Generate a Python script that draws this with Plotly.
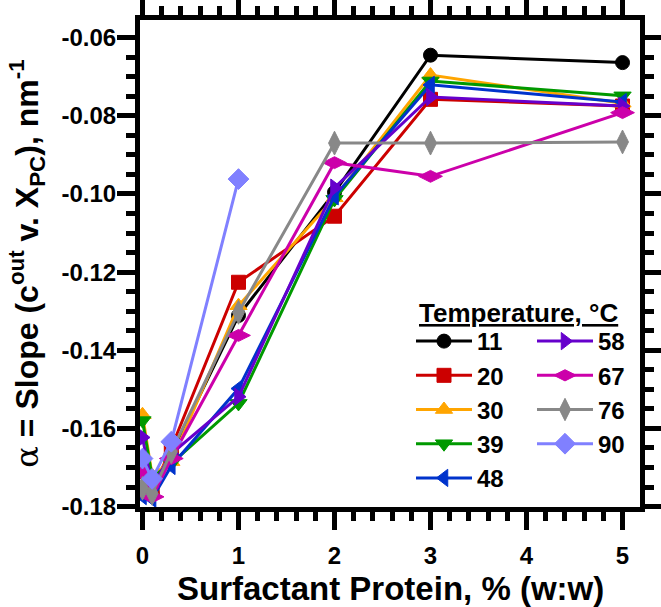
import plotly.graph_objects as go

# ---- data ----
x_vals = [0, 0.1, 0.3, 1, 2, 3, 5]
x_90 = [0, 0.1, 0.3, 1]

temps = ["11", "20", "30", "39", "48", "58", "67", "76", "90"]

s11 = [-0.1755, -0.1765, -0.1665, -0.1311, -0.0996, -0.0645, -0.0664]
s20 = [-0.1710, -0.1760, -0.1650, -0.1226, -0.1057, -0.0758, -0.0775]
s30 = [-0.1565, -0.1720, -0.1685, -0.1286, -0.1010, -0.0696, -0.0768]
s39 = [-0.1580, -0.1724, -0.1690, -0.1536, -0.1014, -0.0711, -0.0749]
s48 = [-0.1773, -0.1780, -0.1696, -0.1498, -0.1006, -0.0721, -0.0765]
s58 = [-0.1623, -0.1750, -0.1665, -0.1519, -0.0984, -0.0752, -0.0775]
s67 = [-0.1714, -0.1775, -0.1677, -0.1362, -0.0920, -0.0955, -0.0792]
s76 = [-0.1753, -0.1766, -0.1660, -0.1303, -0.0870, -0.0870, -0.0867]
s90 = [-0.1677, -0.1729, -0.1634, -0.0962]

x_ticks = [0, 1, 2, 3, 4, 5]
y_ticks = [-0.18, -0.16, -0.14, -0.12, -0.10, -0.08, -0.06]
y_ticklabels = ["-0.18", "-0.16", "-0.14", "-0.12", "-0.10", "-0.08", "-0.06"]

series = [s11, s20, s30, s39, s48, s58, s67, s76, s90]
xs = [x_vals] * 8 + [x_90]
colors = ["#000000", "#CC0000", "#FFA500", "#009900", "#0033CC",
          "#6600CC", "#CC00AA", "#888888", "#8080FF"]
symbols = ["circle", "square", "triangle-up", "triangle-down", "triangle-left",
           "triangle-right", "diamond-wide", "diamond-tall", "diamond"]
sizes = [14, 14, 15, 15, 15, 15, 17, 17, 16]

FONT = "Liberation Sans, Arial, sans-serif"

fig = go.Figure()
for i, (t, yv, xv) in enumerate(zip(temps, series, xs)):
    fig.add_trace(go.Scatter(
        x=xv, y=yv, name=t, mode="lines+markers",
        line=dict(color=colors[i], width=3),
        marker=dict(symbol=symbols[i], size=sizes[i], color=colors[i],
                    line=dict(color=colors[i], width=1)),
        legend="legend" if i < 5 else "legend2",
    ))

axis_common = dict(
    showline=True, linewidth=5, linecolor="black", mirror="ticks",
    ticks="outside", ticklen=18, tickwidth=5, tickcolor="black",
    showgrid=False, zeroline=False, automargin=False,
    tickfont=dict(family=FONT, size=24, color="black", weight="bold"),
)

legend_common = dict(
    xanchor="left", yanchor="top", bgcolor="rgba(0,0,0,0)",
    tracegroupgap=0, itemwidth=56,
    font=dict(family=FONT, size=24, color="black", weight="bold"),
)

fig.update_layout(
    width=661, height=607,
    margin=dict(l=140, r=21, t=20, b=100),
    plot_bgcolor="white", paper_bgcolor="white",
    showlegend=True,
    xaxis=dict(
        range=[-0.026, 5.182], tickmode="array", tickvals=x_ticks,
        ticktext=[str(v) for v in x_ticks],
        minor=dict(dtick=0.2, tick0=0, ticklen=9, tickwidth=5,
                   tickcolor="black", ticks="outside"),
        ticklabelstandoff=5,
        **axis_common,
    ),
    yaxis=dict(
        range=[-0.1801, -0.0555], tickmode="array", tickvals=y_ticks,
        ticktext=y_ticklabels,
        minor=dict(dtick=0.005, tick0=0, ticklen=9, tickwidth=5,
                   tickcolor="black", ticks="outside"),
        ticklabelstandoff=-4,
        title=dict(
            text=("<span style='font-family:DejaVu Serif;font-weight:normal'>α</span>"
                  " = Slope (c<sup>out</sup> v. X<sub>PC</sub>), nm<sup>-1</sup>"),
            font=dict(family=FONT, size=32, color="black", weight="bold")),
        **axis_common,
    ),
    legend=dict(x=0.542, y=0.386, **legend_common),
    legend2=dict(x=0.784, y=0.386, **legend_common),
    annotations=[
        dict(
            text="<u>Temperature, °C</u>", xref="paper", yref="paper",
            x=0.756, y=0.398, xanchor="center", yanchor="middle", showarrow=False,
            font=dict(family=FONT, size=26, color="black", weight="bold"),
        ),
        dict(
            text="Surfactant Protein, % (w:w)", xref="paper", yref="paper",
            x=0.5, y=-0.167, xanchor="center", yanchor="middle", showarrow=False,
            font=dict(family=FONT, size=33, color="black", weight="bold"),
        ),
    ],
)

fig.write_html("out.html",
               config={"displayModeBar": False},
               post_script="document.body.style.margin='0px';document.body.style.overflow='hidden';")
